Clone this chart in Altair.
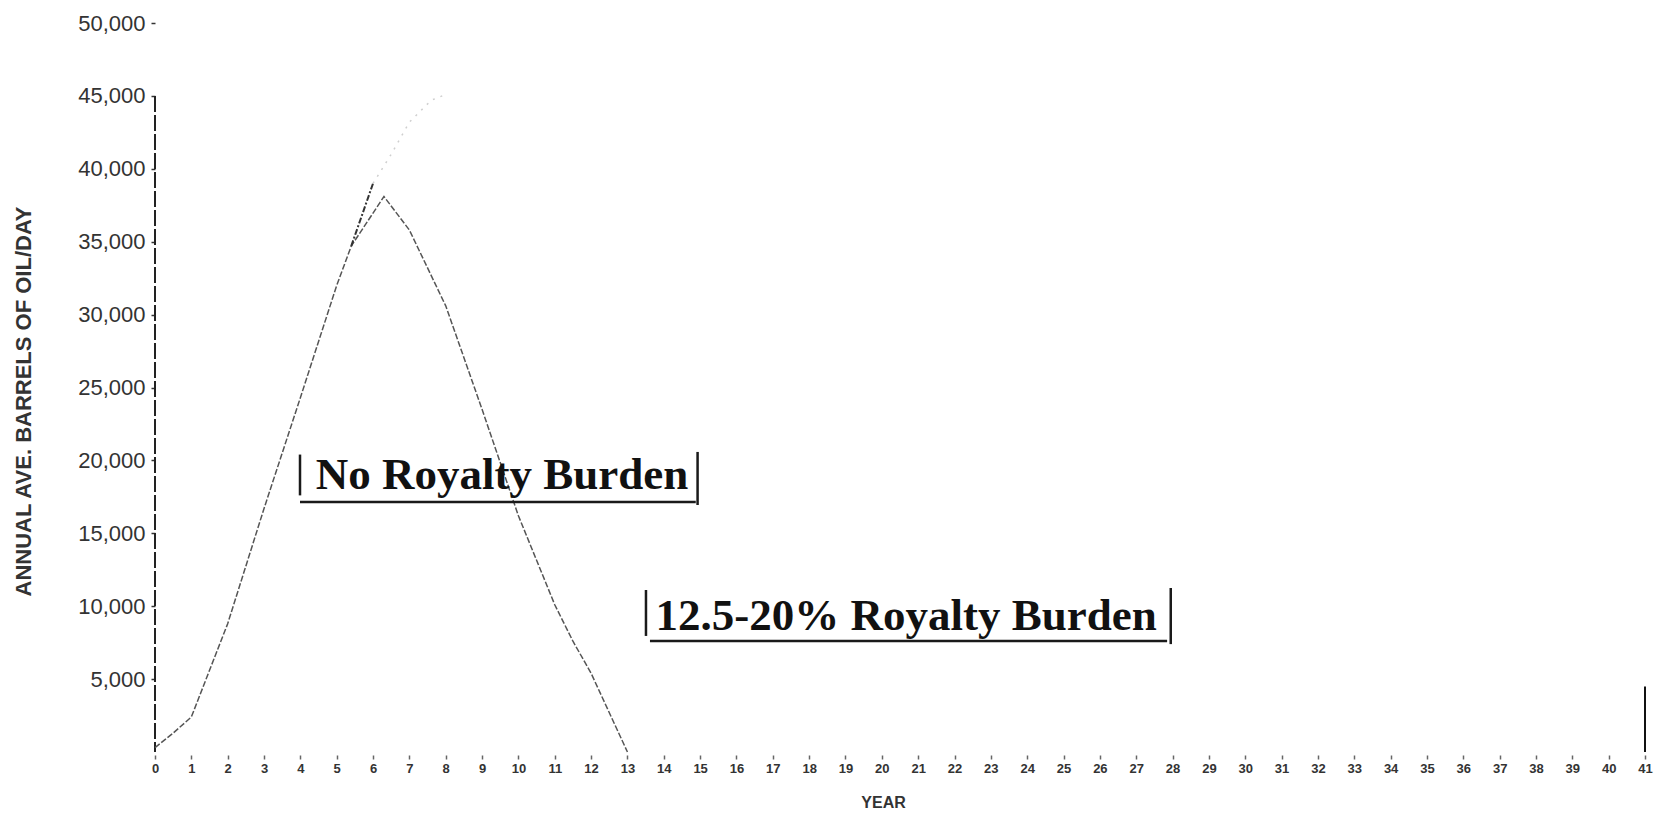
import altair as alt
import pandas as pd

# ---- data ----
years_main = [0, 0.5, 1, 2, 3, 4, 5, 5.4, 6.3, 7, 8, 9, 10, 11, 11.5, 12, 13]
oil_main = [300, 1300, 2400, 8800, 16700, 24300, 32000, 34700, 38100, 35800,
            30600, 23500, 16200, 10100, 7600, 5400, 0]

years_peak = [5.4, 6.0]
oil_peak = [34700, 39000]

years_faint = [6.0, 6.5, 7.0, 7.6, 8.0]
oil_faint = [39000, 41000, 43200, 44700, 45100]

years_tail = [41, 41]
oil_tail = [4500, 0]

y_ticks = [5000, 10000, 15000, 20000, 25000, 30000, 35000, 40000, 45000, 50000]
x_ticks = list(range(0, 42))

axis_line_years = [0]
axis_line_top = [45000]

# annotation boxes (bracket style: left bar, bottom rule, right bar), data units
box_x = [3.99, 3.99, 14.93, 13.51, 13.62, 27.95]
box_x2 = [3.99, 14.88, 14.93, 13.51, 27.85, 27.95]
box_y = [20400, 17150, 20580, 11110, 7610, 11250]
box_y2 = [17600, 17150, 16940, 7960, 7610, 7400]

labels = ["No Royalty Burden", "12.5-20% Royalty Burden"]
label_x = [9.55, 20.67]
label_y = [18050, 8400]

X_DOMAIN = [0, 41]
Y_DOMAIN = [0, 50000]

main_df = pd.DataFrame({"year": years_main, "oil": oil_main, "i": range(len(years_main))})
peak_df = pd.DataFrame({"year": years_peak, "oil": oil_peak, "i": range(len(years_peak))})
faint_df = pd.DataFrame({"year": years_faint, "oil": oil_faint, "i": range(len(years_faint))})
tail_df = pd.DataFrame({"year": years_tail, "oil": oil_tail, "i": range(len(years_tail))})
axis_df = pd.DataFrame({"year": axis_line_years, "oil": axis_line_top})
box_df = pd.DataFrame({"year": box_x, "x2": box_x2, "oil": box_y, "y2": box_y2})
lab_df = pd.DataFrame({"label": labels, "year": label_x, "oil": label_y})

x_scale = alt.Scale(domain=X_DOMAIN, nice=False, zero=False)
y_scale = alt.Scale(domain=Y_DOMAIN, nice=False)

x_axis = alt.Axis(
    values=x_ticks, title="YEAR", domain=False, grid=False,
    ticks=True, tickSize=4, tickColor="#666", tickWidth=1.5, offset=3,
    labelFontSize=13, labelFont="Liberation Sans Narrow, Liberation Sans",
    labelFontWeight="bold", labelColor="#333", labelPadding=3,
    labelFlush=False, labelOverlap=False, labelBound=False,
    titleFont="Liberation Sans", titleFontSize=16, titleFontWeight="bold",
    titleColor="#333", titlePadding=19, titleX=728,
)
y_axis = alt.Axis(
    values=y_ticks, format=",d", title="ANNUAL AVE. BARRELS OF OIL/DAY",
    domain=False, grid=False, ticks=True, tickSize=4, tickColor="#333",
    tickWidth=1.5, labelFontSize=22, labelFont="Liberation Sans",
    labelColor="#333", labelPadding=6, labelOverlap=False,
    titleFont="Liberation Sans", titleFontSize=22, titleFontWeight="bold",
    titleColor="#333", titleAngle=-90, titleX=-132, titleY=378,
    titleBaseline="middle", titleAlign="center",
)

X = alt.X("year:Q", scale=x_scale, axis=x_axis)
Y = alt.Y("oil:Q", scale=y_scale, axis=y_axis)

main_line = alt.Chart(main_df).mark_line(
    color="#555", strokeWidth=1.5, strokeDash=[6, 2]
).encode(x=X, y=Y, order="i:Q")

peak_line = alt.Chart(peak_df).mark_line(
    color="#333", strokeWidth=2, strokeDash=[6, 2, 2, 2]
).encode(x=X, y=Y, order="i:Q")

faint_line = alt.Chart(faint_df).mark_line(
    color="#cfcfcf", strokeWidth=1.5, strokeDash=[2, 6]
).encode(x=X, y=Y, order="i:Q")

tail_line = alt.Chart(tail_df).mark_line(
    color="#111", strokeWidth=2
).encode(x=X, y=Y, order="i:Q")

axis_rule = alt.Chart(axis_df).mark_rule(
    color="#222", strokeWidth=2, strokeDash=[16, 3]
).encode(x=X, y=Y, y2=alt.datum(0))

box_rules = alt.Chart(box_df).mark_rule(
    color="#1a1a1a", strokeWidth=2.5
).encode(x=X, x2="x2:Q", y=Y, y2="y2:Q")

texts = alt.Chart(lab_df).mark_text(
    font="Liberation Serif", fontSize=45, fontWeight="bold", color="#111",
    align="center", baseline="alphabetic"
).encode(x=X, y=Y, text="label:N")

chart = alt.layer(
    axis_rule, faint_line, main_line, peak_line, tail_line, box_rules, texts
).properties(
    width=1490, height=729,
    padding={"left": 147, "top": 15, "right": 15, "bottom": 61},
    autosize=alt.AutoSizeParams(type="none"),
    background="white",
).configure_view(stroke=None)

chart.save("out.html", embed_options={"renderer": "svg", "actions": False})
